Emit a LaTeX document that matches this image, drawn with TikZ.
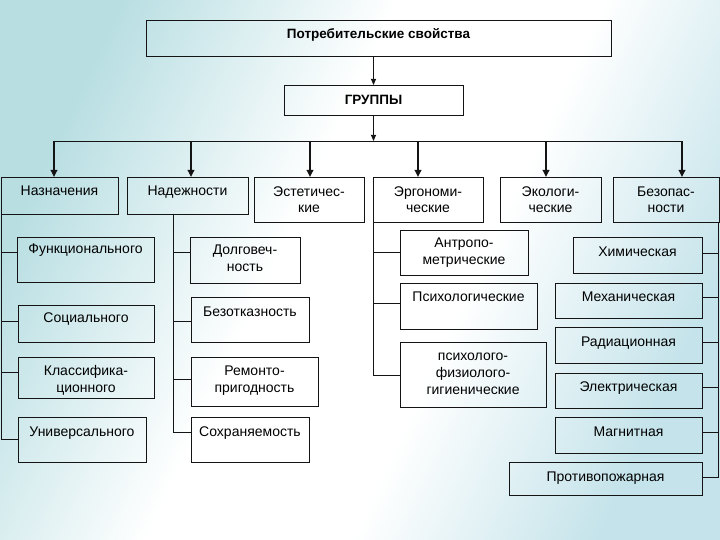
\documentclass[tikz,border=0pt]{standalone}
\usepackage{fontspec}
\setmainfont{Liberation Sans}
\usetikzlibrary{arrows.meta}
\definecolor{bgteal}{RGB}{184,222,226}
\definecolor{bgblue}{RGB}{196,227,234}
\definecolor{edge}{RGB}{20,20,20}
\pgfdeclarehorizontalshading{bgshade}{100bp}{color(0bp)=(bgteal); color(25bp)=(bgteal); color(44bp)=(white); color(58bp)=(white); color(75bp)=(bgblue); color(100bp)=(bgblue)}
% #6 = visual centre of the LAST text line
\newcommand\bx[7]{%
  \node[box, minimum width={#4-#2}, minimum height={#5-#3}, anchor=north west] (#1) at (#2,#3) {};
  \node[txt, anchor=base] at ({(#2+#4)/2},{#6+5}) {#7};}
\newcommand\bxb[7]{%
  \node[box, minimum width={#4-#2}, minimum height={#5-#3}, anchor=north west] (#1) at (#2,#3) {};
  \node[txt, anchor=base, font=\bfseries\fontsize{13.5}{16}\selectfont] at ({(#2+#4)/2},{#6+5}) {#7};}
\tikzset{
  box/.style={draw=edge, line width=0.9pt, inner sep=0pt, outer sep=0pt},
  txt/.style={font=\fontsize{14}{16.8}\selectfont, align=center, inner sep=0pt, text=black},
  link/.style={draw=edge, line width=0.9pt},
  darr/.style={draw=edge, line width=1.7pt, -{Triangle[length=7pt,width=6.5pt]}},
  tarr/.style={draw=edge, line width=0.9pt, -{Triangle[length=6pt,width=5pt]}}
}
\begin{document}
\begin{tikzpicture}[x=1pt,y=-1pt]
\useasboundingbox (0,0) rectangle (720,540);
\shade[shading=bgshade, shading angle=-25] (0,0) rectangle (720,540);
% top
\bxb{top}{146}{20}{611}{56}{34}{Потребительские свойства}
\bxb{grp}{284}{85}{463}{115}{100}{ГРУППЫ}
% groups
\bx{naz}{1}{177}{118}{214}{191}{Назначения}
\bx{nad}{127}{177}{248}{214}{191}{Надежности}
\bx{est}{254}{177}{364}{222}{208}{Эстетичес-\\кие}
\bx{erg}{373}{177}{483}{222}{208}{Эргономи-\\ческие}
\bx{eko}{500}{177}{601}{222}{208}{Экологи-\\ческие}
\bx{bez}{613}{177}{719}{222}{208}{Безопас-\\ности}
% left column
\bx{fun}{17}{237}{154}{282}{249}{Функционального}
\bx{soc}{18}{305}{154}{342}{317}{Социального}
\bx{kla}{18}{357}{154}{398}{387}{Классифика-\\ционного}
\bx{uni}{18}{417}{146}{462}{431}{Универсального}
% reliability
\bx{dol}{190}{237}{300}{283}{266}{Долговеч-\\ность}
\bx{bzo}{191}{297}{309}{342}{311}{Безотказность}
\bx{rem}{191}{357}{318}{406}{387}{Ремонто-\\пригодность}
\bx{soh}{191}{417}{309}{462}{431}{Сохраняемость}
% ergonomic
\bx{ant}{400}{230}{528}{275}{259}{Антропо-\\метрические}
\bx{psy}{400}{283}{537}{329}{296}{Психологические}
\bx{pfg}{400}{342}{546}{407}{389}{психолого-\\физиолого-\\гигиенические}
% safety
\bx{him}{573}{237}{702}{273}{251}{Химическая}
\bx{meh}{555}{283}{702}{318}{296}{Механическая}
\bx{rad}{555}{327}{702}{363}{341}{Радиационная}
\bx{ele}{555}{373}{702}{408}{386}{Электрическая}
\bx{mag}{555}{417}{702}{453}{431}{Магнитная}
\bx{pro}{509}{462}{702}{495}{476}{Противопожарная}
% arrows at top
\draw[tarr] (grp.north |- top.south) -- (grp.north);
\coordinate (b0) at (373.5,141);
\draw[tarr] (grp.south) -- (b0);
\coordinate (b1) at (54,141);
\coordinate (b2) at (191,141);
\coordinate (b3) at (310,141);
\coordinate (b4) at (418,141);
\coordinate (b5) at (546,141);
\coordinate (b6) at (682,141);
\draw[link] (b1) -- (b6);
\draw[darr] (b1) -- (b1 |- naz.north);
\draw[darr] (b2) -- (b2 |- nad.north);
\draw[darr] (b3) -- (b3 |- est.north);
\draw[darr] (b4) -- (b4 |- erg.north);
\draw[darr] (b5) -- (b5 |- eko.north);
\draw[darr] (b6) -- (b6 |- bez.north);
% left trunk
\coordinate (lt) at (1,439);
\draw[link] (naz.south west) -- (lt) -- (lt -| uni.west);
\draw[link] (lt |- 0,252) -- (fun.west |- 0,252);
\draw[link] (lt |- 0,321) -- (soc.west |- 0,321);
\draw[link] (lt |- 0,372) -- (kla.west |- 0,372);
% reliability trunk
\coordinate (rt) at (173,432);
\draw[link] (rt |- nad.south) -- (rt) -- (rt -| soh.west);
\draw[link] (rt |- 0,252) -- (dol.west |- 0,252);
\draw[link] (rt |- 0,321) -- (bzo.west |- 0,321);
\draw[link] (rt |- 0,379) -- (rem.west |- 0,379);
% ergonomic trunk
\coordinate (et) at (373,375);
\draw[link] (erg.south west) -- (et) -- (et -| pfg.west);
\draw[link] (et |- 0,252) -- (ant.west |- 0,252);
\draw[link] (et |- 0,303) -- (psy.west |- 0,303);
% safety trunk
\coordinate (st) at (718,477);
\draw[link] (st |- bez.south) -- (st) -- (st -| pro.east);
\draw[link] (him.east |- 0,253) -- (st |- 0,253);
\draw[link] (meh.east |- 0,297) -- (st |- 0,297);
\draw[link] (rad.east |- 0,342) -- (st |- 0,342);
\draw[link] (ele.east |- 0,387) -- (st |- 0,387);
\draw[link] (mag.east |- 0,432) -- (st |- 0,432);
\end{tikzpicture}
\end{document}
